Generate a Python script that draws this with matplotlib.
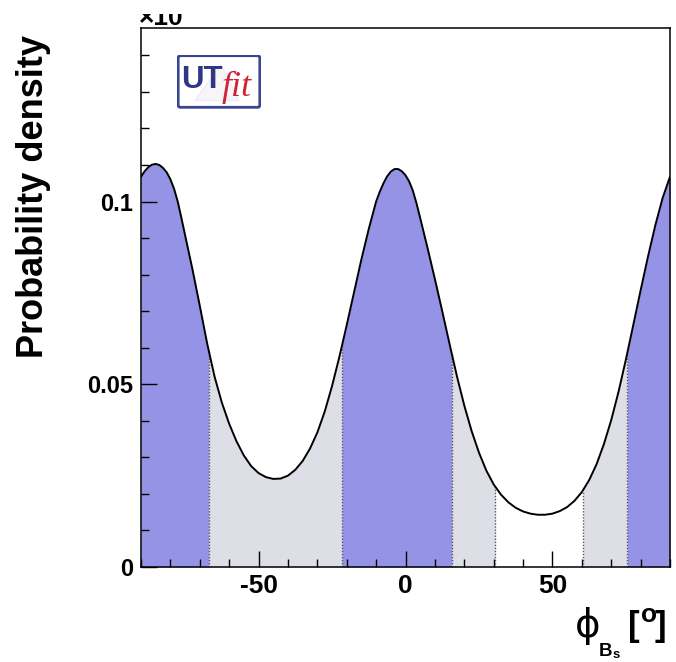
import numpy as np
import matplotlib
matplotlib.use("Agg")
import matplotlib.pyplot as plt
from matplotlib.patches import Rectangle, FancyBboxPatch, Polygon
from matplotlib.ticker import MultipleLocator, FixedLocator, FuncFormatter

plt.rcParams["axes.unicode_minus"] = False
plt.rcParams["font.family"] = ["Liberation Sans", "DejaVu Sans"]

# posterior of phi_Bs (degrees) and its probability density
phi_deg = [-90.0, -88.75, -87.5, -86.25, -85.0, -83.75, -82.5, -81.25, -80.0, -78.75,
           -77.5, -76.25, -75.0, -72.5, -70.0, -67.5, -65.0, -62.5, -60.0, -57.5,
           -55.0, -52.5, -50.0, -47.5, -45.0, -42.5, -40.0, -37.5, -35.0, -32.5,
           -30.0, -27.5, -25.0, -22.5, -20.0, -17.5, -15.0, -12.5, -10.0, -8.75,
           -7.5, -6.25, -5.0, -3.75, -2.5, -1.25, 0.0, 1.25, 2.5, 3.75,
           5.0, 7.5, 10.0, 12.5, 15.0, 17.5, 20.0, 22.5, 25.0, 27.5,
           30.0, 32.5, 35.0, 37.5, 40.0, 42.5, 45.0, 47.5, 50.0, 52.5,
           55.0, 57.5, 60.0, 62.5, 65.0, 67.5, 70.0, 72.5, 75.0, 77.5,
           80.0, 82.5, 85.0, 87.5, 90.0]
density = [0.1068, 0.1083, 0.1094, 0.1101, 0.1103, 0.1100, 0.1092, 0.1080, 0.1061, 0.1035,
           0.1000, 0.0955, 0.0908, 0.0815, 0.0715, 0.0612, 0.0522, 0.0450, 0.0392, 0.0344,
           0.0305, 0.0276, 0.0257, 0.0246, 0.0241, 0.0242, 0.0250, 0.0266, 0.0290, 0.0324,
           0.0368, 0.0425, 0.0495, 0.0575, 0.0662, 0.0752, 0.0842, 0.0925, 0.1000, 0.1027,
           0.1050, 0.1069, 0.1082, 0.1089, 0.1089, 0.1083, 0.1072, 0.1055, 0.1030, 0.0995,
           0.0955, 0.0873, 0.0788, 0.0700, 0.0610, 0.0522, 0.0442, 0.0372, 0.0313, 0.0264,
           0.0226, 0.0198, 0.0177, 0.0162, 0.0152, 0.0146, 0.0143, 0.0143, 0.0146, 0.0153,
           0.0164, 0.0181, 0.0205, 0.0238, 0.0281, 0.0336, 0.0402, 0.0480, 0.0568, 0.0662,
           0.0757, 0.0849, 0.0935, 0.1010, 0.1068]

# highest-density intervals (degrees)
intervals_68 = [(-90.0, -67.0), (-21.6, 15.7), (75.5, 90.0)]
intervals_95 = [(-67.0, -21.6), (15.7, 30.5), (60.5, 75.5)]

x_major = [-50, 0, 50]
y_major = [0, 0.05, 0.1]

COL_68 = "#9593E6"
COL_95 = "#DEDEE7"

W, H = 676, 662
fig = plt.figure(figsize=(W / 100, H / 100), dpi=100)


def fx(px):
    return px / W


def fy(py):
    return 1 - py / H


ax = fig.add_axes([fx(141), fy(567), (670 - 141) / W, (567 - 28) / H])
ax.set_xlim(-90, 90)
ax.set_ylim(0, 0.1475)

phi = np.array(phi_deg)
dens = np.array(density)


def band(a, b, color):
    xs = [a] + [x for x in phi_deg if a < x < b] + [b]
    ys = np.interp(xs, phi, dens)
    ax.fill_between(xs, 0, ys, color=color, lw=0, zorder=1)


for a, b in intervals_95:
    band(a, b, COL_95)
for a, b in intervals_68:
    band(a, b, COL_68)

# dotted edges of the intervals
edges = sorted({e for iv in intervals_68 + intervals_95 for e in iv if -90 < e < 90})
for e in edges:
    ax.plot([e, e], [0, np.interp(e, phi, dens)], color="#55556A", lw=1.0,
            ls=(0, (1, 1.2)), zorder=2)

ax.plot(phi, dens, color="black", lw=1.4, zorder=3, solid_joinstyle="round")

# axes styling
for s in ax.spines.values():
    s.set_linewidth(1.1)
    s.set_color("black")
ax.xaxis.set_major_locator(FixedLocator(x_major))
ax.xaxis.set_minor_locator(MultipleLocator(10))
ax.yaxis.set_major_locator(FixedLocator(y_major))
ax.yaxis.set_minor_locator(MultipleLocator(0.01))
ax.xaxis.set_major_formatter(FuncFormatter(lambda v, p: f"{v:g}"))
ax.yaxis.set_major_formatter(FuncFormatter(lambda v, p: f"{v:g}"))
ax.tick_params(which="both", direction="in", top=False, right=False, width=1.0,
               color="black")
ax.tick_params(which="major", length=11.5)
ax.tick_params(which="minor", length=6)
ax.tick_params(axis="y", which="major", pad=5.5, labelsize=17)
ax.tick_params(axis="x", which="major", pad=5, labelsize=19)
for lab in ax.get_xticklabels() + ax.get_yticklabels():
    lab.set_fontweight("bold")

# y title
fig.text(fx(34), fy(35), "Probability density", rotation=90, ha="center", va="top",
         fontsize=26, fontweight="bold")

# exponent label at top-left, partly outside the page
fig.text(fx(139), fy(25), "×10", ha="left", va="baseline", fontsize=19,
         fontweight="bold")
fig.patches.append(Rectangle((0, fy(13.5)), 1, 1, transform=fig.transFigure,
                             facecolor="white", edgecolor="none", zorder=10))

# x title: phi_{B_s} [deg]
fig.text(fx(588), fy(637), "\u03d5", ha="center", va="baseline", fontsize=28,
         family="DejaVu Sans")
fig.text(fx(599), fy(656), "B", ha="left", va="baseline", fontsize=13.5,
         fontweight="bold")
fig.text(fx(613), fy(658), "s", ha="left", va="baseline", fontsize=9.5,
         fontweight="bold")
fig.text(fx(628), fy(636), "[", ha="left", va="baseline", fontsize=25,
         fontweight="bold")
fig.text(fx(641), fy(622), "o", ha="left", va="baseline", fontsize=19,
         fontweight="bold")
fig.text(fx(655), fy(636), "]", ha="left", va="baseline", fontsize=25,
         fontweight="bold")

# UTfit logo
lg = fig.add_axes([fx(177), fy(108.5), 84 / W, 54 / H])
lg.set_xlim(0, 84)
lg.set_ylim(0, 54)
lg.axis("off")
lg.add_patch(Polygon([[18, 8], [62, 8], [44, 44]], closed=True,
                     facecolor="#F8F5F8", edgecolor="#EEEBF3", lw=0.8, zorder=1))
lg.add_patch(FancyBboxPatch((1.2, 1.2), 81.6, 51.6, boxstyle="round,pad=0,rounding_size=2",
                            facecolor="none", edgecolor="#3A4592", lw=2.0, zorder=3))
lg.text(4.0, 20, "UT", ha="left", va="baseline", fontsize=22.5, fontweight="bold",
        color="#2F3686", zorder=4)
lg.text(45, 13, "fit", ha="left", va="baseline", fontsize=26, style="italic",
        color="#CF2436", family=["Liberation Serif", "DejaVu Serif"], zorder=4)

fig.savefig("out.png", dpi=100)
